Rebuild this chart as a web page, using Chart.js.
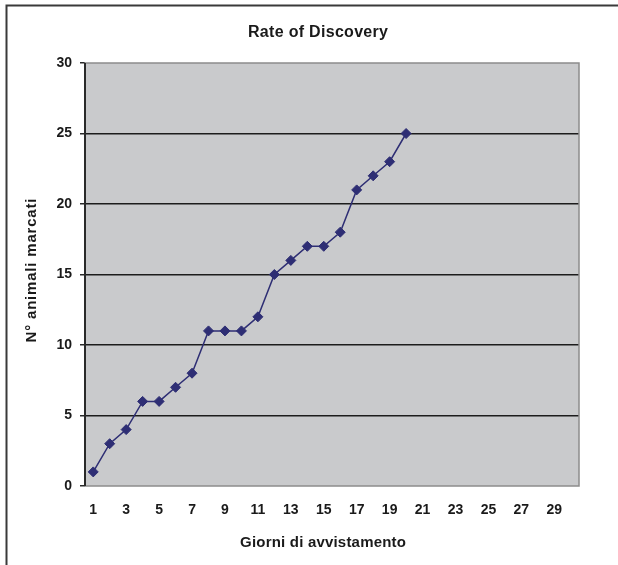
<!DOCTYPE html>
<html>
<head>
<meta charset="utf-8">
<script src="https://cdn.jsdelivr.net/npm/chart.js@4.4.0/dist/chart.umd.min.js"></script>
<style>
html,body{margin:0;padding:0;background:#fff;}
#wrap{width:618px;height:565px;position:relative;}
</style>
</head>
<body>
<div id="wrap"><canvas id="c" width="618" height="565"></canvas></div>
<script>
const chartTitle = "Rate of Discovery";
const xTitle = "Giorni di avvistamento";
const yTitle = "N° animali marcati";
const days = Array.from({length: 30}, (_, i) => String(i + 1));
const marked = [1, 3, 4, 6, 6, 7, 8, 11, 11, 11, 12, 15, 16, 17, 17, 18, 21, 22, 23, 25];
const yMin = 0, yMax = 30, yStep = 5;

const FONT = "'Liberation Sans', Arial, sans-serif";

function drawText(ctx, text, x, y, size, spacing, rot) {
  ctx.save();
  ctx.translate(x, y);
  if (rot) ctx.rotate(rot);
  ctx.font = 'bold ' + size + 'px ' + FONT;
  try { ctx.letterSpacing = spacing + 'px'; } catch (e) {}
  ctx.fillStyle = '#1a1a1a';
  ctx.textAlign = 'center';
  ctx.textBaseline = 'middle';
  ctx.fillText(text, spacing / 2, 0);
  ctx.restore();
}

const framePlugin = {
  id: 'frame',
  beforeDraw(chart) {
    const ctx = chart.ctx;
    const a = chart.chartArea;
    ctx.save();
    ctx.fillStyle = '#fff';
    ctx.fillRect(0, 0, chart.width, chart.height);
    ctx.strokeStyle = '#3a3a3a';
    ctx.lineWidth = 2;
    ctx.beginPath();
    ctx.moveTo(6.5, chart.height + 2);
    ctx.lineTo(6.5, 5.5);
    ctx.lineTo(chart.width + 2, 5.5);
    ctx.stroke();
    ctx.fillStyle = '#c9cacc';
    ctx.fillRect(a.left, a.top, a.right - a.left, a.bottom - a.top);
    ctx.restore();
  },
  beforeDatasetsDraw(chart) {
    const ctx = chart.ctx;
    const a = chart.chartArea;
    ctx.save();
    ctx.strokeStyle = '#8c8c8c';
    ctx.lineWidth = 1.5;
    ctx.strokeRect(a.left, a.top, a.right - a.left, a.bottom - a.top);
    ctx.strokeStyle = '#2a2a2a';
    ctx.lineWidth = 2;
    ctx.beginPath();
    ctx.moveTo(a.left, a.top);
    ctx.lineTo(a.left, a.bottom);
    ctx.stroke();
    ctx.restore();
  },
  afterDraw(chart) {
    const ctx = chart.ctx;
    drawText(ctx, chartTitle, 318, 33, 16, 0.3, 0);
    drawText(ctx, xTitle, 323, 543, 15, 0.2, 0);
    drawText(ctx, yTitle, 32, 270.5, 15, 0.8, -Math.PI / 2);
  }
};

new Chart(document.getElementById('c'), {
  type: 'line',
  data: {
    labels: days,
    datasets: [{
      data: marked,
      borderColor: '#2e2e74',
      backgroundColor: '#2e2e74',
      borderWidth: 1.5,
      pointStyle: 'rectRot',
      pointRadius: 5,
      pointHoverRadius: 5,
      pointBorderWidth: 1,
      tension: 0,
      fill: false
    }]
  },
  options: {
    responsive: false,
    animation: false,
    events: [],
    layout: { padding: { left: 0, right: 39, top: 63, bottom: 0 } },
    plugins: {
      legend: { display: false },
      tooltip: { enabled: false },
      title: { display: false }
    },
    scales: {
      x: {
        type: 'category',
        offset: true,
        grid: { display: false, drawTicks: false },
        border: { display: false },
        afterFit(s) { s.height = 79; },
        ticks: {
          autoSkip: false,
          maxRotation: 0,
          minRotation: 0,
          padding: 16,
          color: '#1a1a1a',
          font: { family: FONT, size: 14, weight: 'bold' },
          callback(v, i) { return i % 2 === 0 ? this.getLabelForValue(v) : ''; }
        },
        title: { display: false, text: xTitle }
      },
      y: {
        min: yMin,
        max: yMax,
        afterFit(s) { s.width = 85; },
        grid: {
          color: (c) => (c.tick && (c.tick.value === yMin || c.tick.value === yMax)) ? 'rgba(0,0,0,0)' : '#1c1c1c',
          lineWidth: 1.5,
          tickColor: '#2a2a2a',
          tickLength: 5,
          drawTicks: true
        },
        border: { display: false },
        ticks: {
          stepSize: yStep,
          padding: 8,
          color: '#1a1a1a',
          font: { family: FONT, size: 14, weight: 'bold' }
        },
        title: { display: false, text: yTitle }
      }
    }
  },
  plugins: [framePlugin]
});
</script>
</body>
</html>
